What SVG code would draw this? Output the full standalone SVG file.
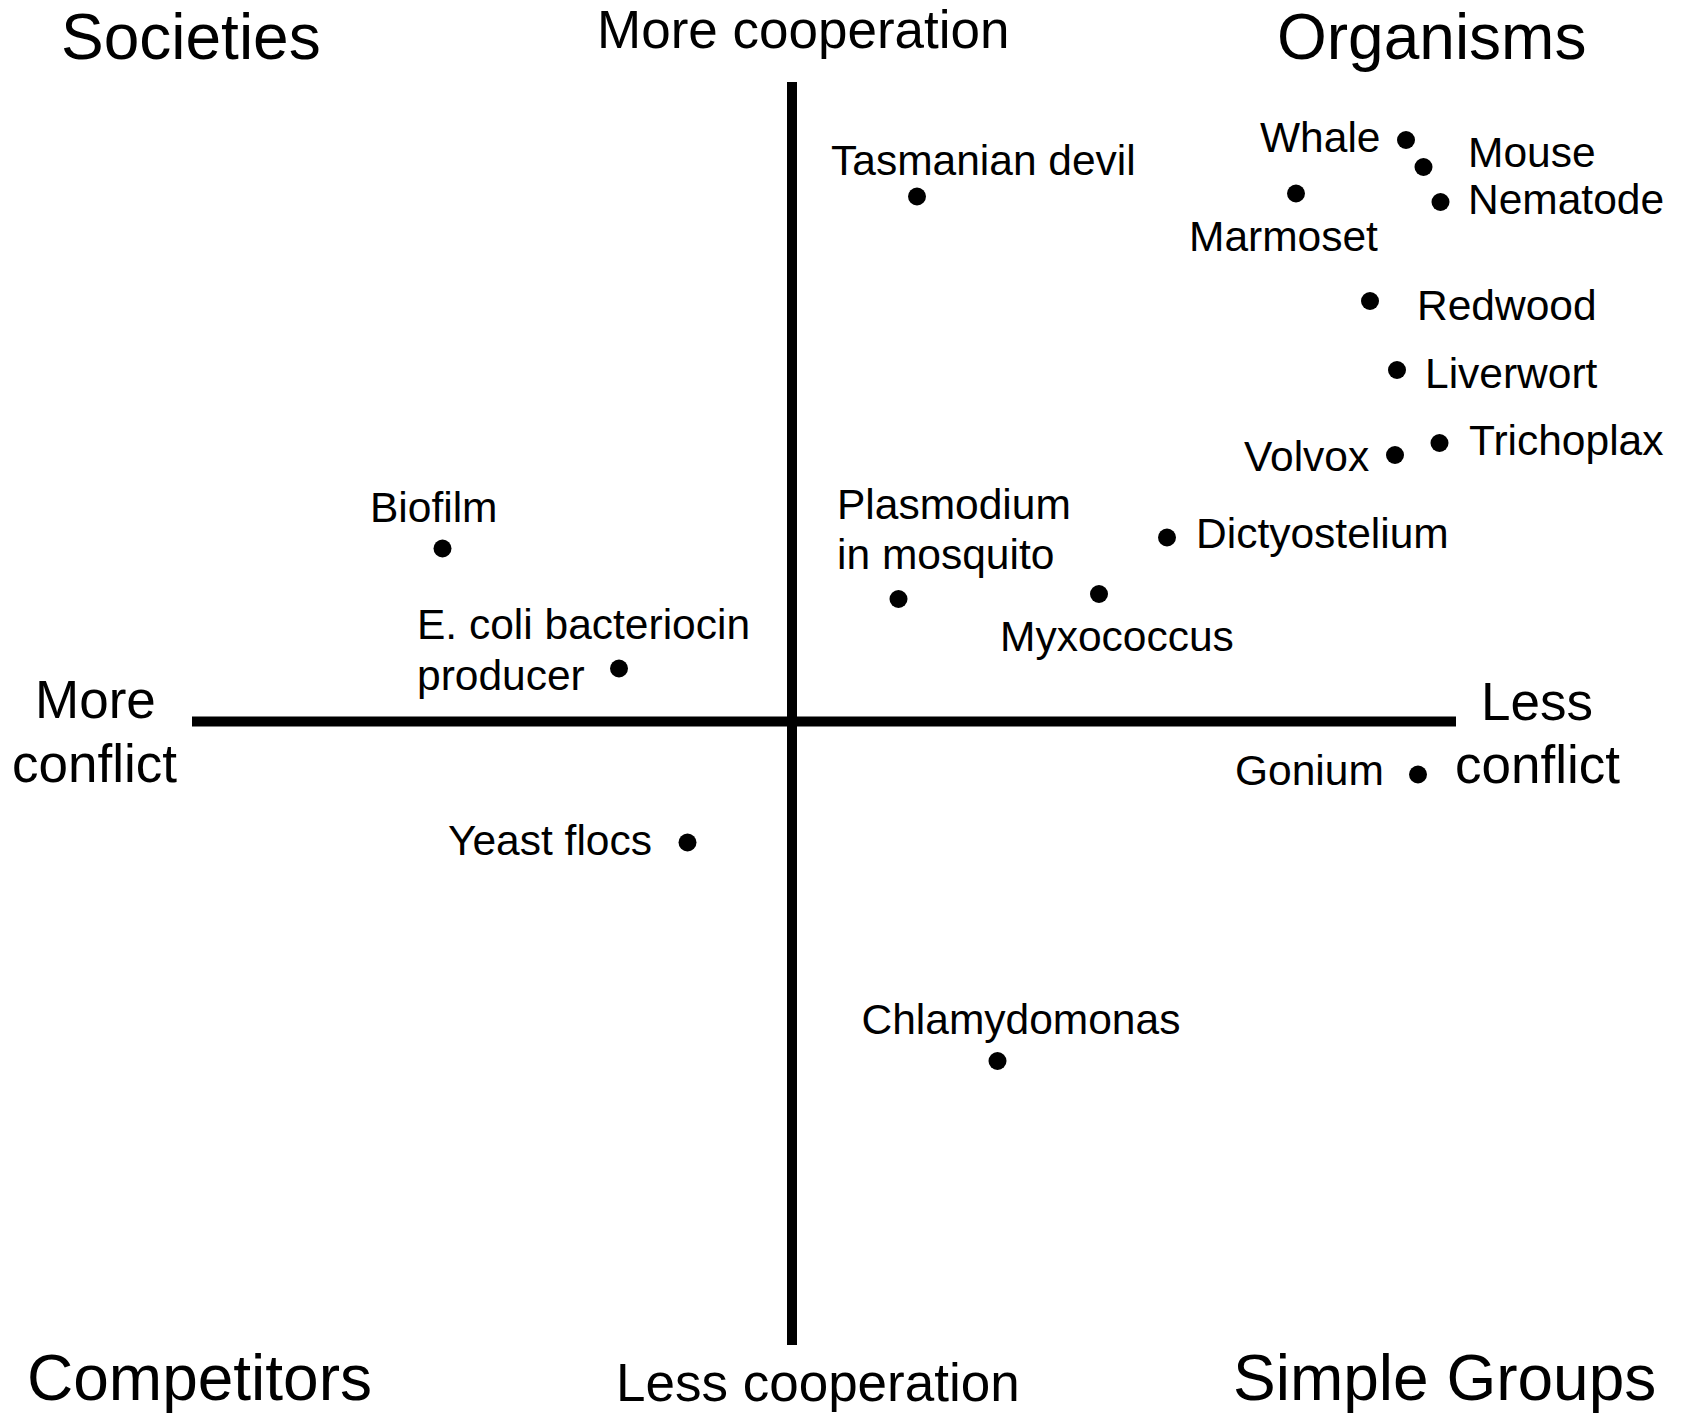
<svg xmlns="http://www.w3.org/2000/svg" width="1684" height="1414" viewBox="0 0 1684 1414">
  <style>
    text { font-family: "Liberation Sans", Arial, sans-serif; fill: #000; }
    .big { font-size: 64px; }
    .axis-label { font-size: 53px; }
    .lbl { font-size: 42.5px; }
    .dot { fill: #000; }
    .axis { stroke: #000; stroke-width: 10; fill: none; }
  </style>
  <rect width="1684" height="1414" fill="#fff"/>

  <!-- axes -->
  <g id="axes">
    <line class="axis" x1="792" y1="82" x2="792" y2="1345"/>
    <line class="axis" x1="192" y1="721.5" x2="1456" y2="721.5"/>
  </g>

  <!-- quadrant titles -->
  <g id="quadrants">
    <text class="big" x="61" y="59">Societies</text>
    <text class="big" x="1277" y="59">Organisms</text>
    <text class="big" x="27" y="1400">Competitors</text>
    <text class="big" x="1233" y="1400">Simple Groups</text>
  </g>

  <!-- axis ends -->
  <g id="axis-labels">
    <text class="axis-label" x="597" y="48">More cooperation</text>
    <text class="axis-label" x="616" y="1401">Less cooperation</text>
    <text class="axis-label" x="35" y="718">More</text>
    <text class="axis-label" x="12" y="782">conflict</text>
    <text class="axis-label" x="1481" y="720">Less</text>
    <text class="axis-label" x="1455" y="783">conflict</text>
  </g>

  <!-- data points -->
  <g id="tasmanian-devil">
    <circle class="dot" cx="917" cy="196.5" r="9"/>
    <text class="lbl" x="831" y="175">Tasmanian devil</text>
  </g>
  <g id="whale">
    <circle class="dot" cx="1406" cy="140" r="9"/>
    <text class="lbl" x="1260" y="152">Whale</text>
  </g>
  <g id="mouse">
    <circle class="dot" cx="1423.5" cy="167" r="9"/>
    <text class="lbl" x="1468" y="167">Mouse</text>
  </g>
  <g id="marmoset">
    <circle class="dot" cx="1296" cy="193.5" r="9"/>
    <text class="lbl" x="1189" y="251">Marmoset</text>
  </g>
  <g id="nematode">
    <circle class="dot" cx="1440.5" cy="202" r="9"/>
    <text class="lbl" x="1468" y="213.5">Nematode</text>
  </g>
  <g id="redwood">
    <circle class="dot" cx="1370" cy="301" r="9"/>
    <text class="lbl" x="1417" y="319.5">Redwood</text>
  </g>
  <g id="liverwort">
    <circle class="dot" cx="1397" cy="370" r="9"/>
    <text class="lbl" x="1425" y="388">Liverwort</text>
  </g>
  <g id="volvox">
    <circle class="dot" cx="1395" cy="455" r="9"/>
    <text class="lbl" x="1244" y="471">Volvox</text>
  </g>
  <g id="trichoplax">
    <circle class="dot" cx="1439.5" cy="443" r="9"/>
    <text class="lbl" x="1469" y="455">Trichoplax</text>
  </g>
  <g id="dictyostelium">
    <circle class="dot" cx="1167" cy="537.5" r="9"/>
    <text class="lbl" x="1196" y="548">Dictyostelium</text>
  </g>
  <g id="plasmodium">
    <circle class="dot" cx="898.5" cy="599" r="9"/>
    <text class="lbl" x="837" y="519">Plasmodium</text>
    <text class="lbl" x="837" y="569">in mosquito</text>
  </g>
  <g id="myxococcus">
    <circle class="dot" cx="1099" cy="594" r="9"/>
    <text class="lbl" x="1000" y="651">Myxococcus</text>
  </g>
  <g id="biofilm">
    <circle class="dot" cx="442.5" cy="548.5" r="9"/>
    <text class="lbl" x="370" y="522">Biofilm</text>
  </g>
  <g id="e-coli">
    <circle class="dot" cx="619" cy="668.5" r="9"/>
    <text class="lbl" x="417" y="638.5">E. coli bacteriocin</text>
    <text class="lbl" x="417" y="689.5">producer</text>
  </g>
  <g id="gonium">
    <circle class="dot" cx="1418" cy="774.5" r="9"/>
    <text class="lbl" x="1235" y="785">Gonium</text>
  </g>
  <g id="yeast-flocs">
    <circle class="dot" cx="687.5" cy="842.5" r="9"/>
    <text class="lbl" x="448" y="855">Yeast flocs</text>
  </g>
  <g id="chlamydomonas">
    <circle class="dot" cx="997.5" cy="1061" r="9"/>
    <text class="lbl" x="861.5" y="1033.5">Chlamydomonas</text>
  </g>
</svg>
